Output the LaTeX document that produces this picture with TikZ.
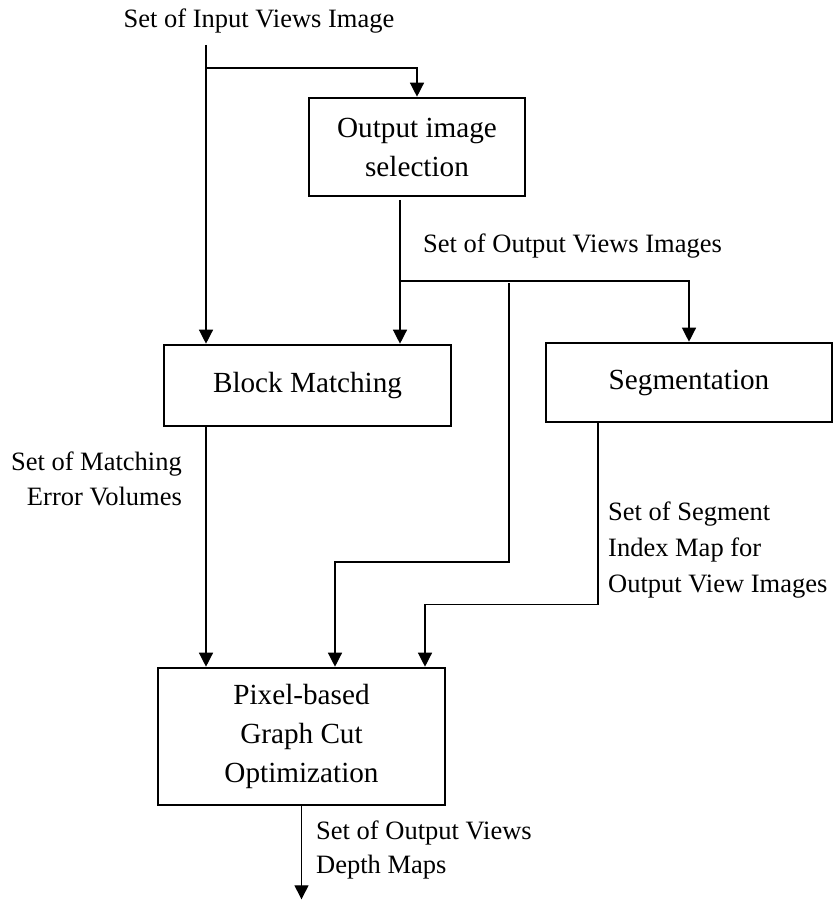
\documentclass[tikz,border=0pt]{standalone}
\usepackage{fontspec}
\setmainfont{Liberation Serif}
\usetikzlibrary{arrows.meta,calc}
\begin{document}
\begin{tikzpicture}[x=1pt,y=-1pt,
  box/.style={draw,line width=2.6pt,inner sep=0pt,align=center,font=\fontsize{29.2pt}{39pt}\selectfont},
  lbl/.style={inner sep=0pt,font=\fontsize{26.5pt}{35pt}\selectfont},
  conn/.style={line width=1.3pt,-{Triangle[length=14pt,width=14pt]}}]
\useasboundingbox (0,0) rectangle (833,901);

% boxes
\node[box,minimum width=216pt,minimum height=98pt] (out) at (417,147) {Output image\\selection};
\node[box,minimum width=287pt,minimum height=81pt] (blk) at (307.5,385.5) {Block Matching};
\node[box,minimum width=286pt,minimum height=79pt] (seg) at (689,382.5) {Segmentation};
\node[box,minimum width=287pt,minimum height=137pt] (pix) at (301.5,736.5) {Pixel-based\\Graph Cut\\Optimization};

% labels
\node[lbl,anchor=base] (ttl) at (259,28) {Set of Input Views Image};
\node[lbl,anchor=base west] (lov) at (423,252) {Set of Output Views Images};
\node[lbl,anchor=base east] (lm1) at (182,470) {Set of Matching};
\node[lbl,anchor=base east] (lm2) at (182,505) {Error Volumes};
\node[lbl,anchor=base west] (ls1) at (608,520) {Set of Segment};
\node[lbl,anchor=base west] (ls2) at (608,556) {Index Map for};
\node[lbl,anchor=base west] (ls3) at (608,592) {Output View Images};
\node[lbl,anchor=base west] (ld1) at (316,839) {Set of Output Views};
\node[lbl,anchor=base west] (ld2) at (316,873) {Depth Maps};

% connectors
\coordinate (inTop) at (206,45);
\coordinate (inBr) at (206,68);
\draw[conn] (inTop) -- (inTop |- blk.north);
\draw[conn] (inBr) -| (out.north);

\coordinate (outS) at (400,200);
\coordinate (outBr) at (400,281);
\coordinate (outV) at (509,283);
\coordinate (bend1) at (509,562);
\draw[conn] (outS) -- (outS |- blk.north);
\draw[conn] (outBr) -| (seg.north);
\draw[conn] (outV) -- (bend1) -| ($(pix.north)+(33.5,0)$);

\draw[conn] (blk.south -| inTop) -- (inTop |- pix.north);
\draw[conn] ($(seg.south)+(-91,0)$) -- ++(0,181) -| ($(pix.north)+(123.5,0)$);
\draw[conn] (pix.south) -- ++(0,93);
\end{tikzpicture}
\end{document}
